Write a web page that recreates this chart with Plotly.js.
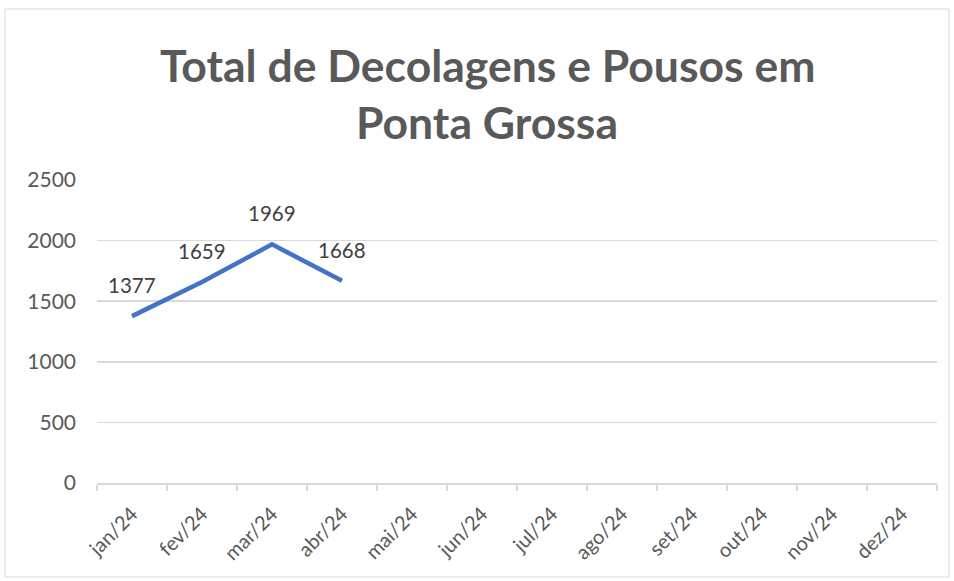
<!DOCTYPE html>
<html>
<head>
<meta charset="utf-8">
<script src="https://cdn.plot.ly/plotly-3.0.1.min.js"></script>
<style>
html,body{margin:0;padding:0;background:#fff;}
#chart{width:954px;height:581px;}
</style>
</head>
<body>
<div id="chart"></div>
<script>
const months = ["jan/24","fev/24","mar/24","abr/24","mai/24","jun/24","jul/24","ago/24","set/24","out/24","nov/24","dez/24"];
const totals = [1377, 1659, 1969, 1668, null, null, null, null, null, null, null, null];
const yTicks = [0, 500, 1000, 1500, 2000, 2500];
const titleLines = ["Total de Decolagens e Pousos em", "Ponta Grossa"];

const FONT = "Lato, 'Open Sans', sans-serif";

const trace = {
  x: months,
  y: totals,
  type: "scatter",
  mode: "lines",
  line: {color: "#4472C4", width: 4.5},
  connectgaps: false,
  hoverinfo: "x+y"
};

const anns = [];
months.forEach((m, i) => {
  if (totals[i] !== null) {
    anns.push({
      x: m, y: totals[i], xref: "x", yref: "y",
      text: String(totals[i]), showarrow: false,
      yshift: 31, xanchor: "center", yanchor: "middle",
      font: {family: FONT, size: 20.5, color: "#404040"}
    });
  }
});
// title lines (plot area spans x 97..937, y 180..483 in pixels)
const titleY = [(483 - 64) / 303, (483 - 121) / 303];
titleLines.forEach((t, i) => {
  anns.push({
    x: (487 - 97) / 840, y: titleY[i], xref: "paper", yref: "paper",
    text: "<b>" + t + "</b>", showarrow: false,
    xanchor: "center", yanchor: "middle",
    font: {family: FONT, size: 44.5, color: "#595959"}
  });
});

const layout = {
  width: 954, height: 581,
  margin: {l: 97, r: 17, t: 180, b: 98},
  paper_bgcolor: "#fff", plot_bgcolor: "#fff",
  showlegend: false,
  xaxis: {
    type: "category",
    categoryorder: "array", categoryarray: months,
    range: [-0.5, 11.5],
    showgrid: false, zeroline: false,
    showline: true, linecolor: "#d9d9d9", linewidth: 1.5,
    ticks: "outside", tickson: "boundaries", ticklen: 6, tickcolor: "#d9d9d9", tickwidth: 1.5,
    tickangle: -45, ticklabelstandoff: 10,
    tickfont: {family: FONT, size: 20, color: "#595959"},
    fixedrange: true
  },
  yaxis: {
    range: [0, 2500],
    tickvals: yTicks,
    showgrid: true, gridcolor: "#d9d9d9", gridwidth: 1.5,
    zeroline: false, showline: false,
    ticks: "", ticklabelstandoff: 20,
    tickfont: {family: FONT, size: 21, color: "#595959"},
    fixedrange: true
  },
  annotations: anns,
  shapes: [{
    type: "rect", xref: "paper", yref: "paper",
    x0: (5 - 97) / 840, x1: (949 - 97) / 840,
    y0: (483 - 577) / 303, y1: (483 - 9) / 303,
    line: {color: "#d9d9d9", width: 1}, layer: "below"
  }]
};

Plotly.newPlot("chart", [trace], layout, {displayModeBar: false, staticPlot: true});
</script>
</body>
</html>
